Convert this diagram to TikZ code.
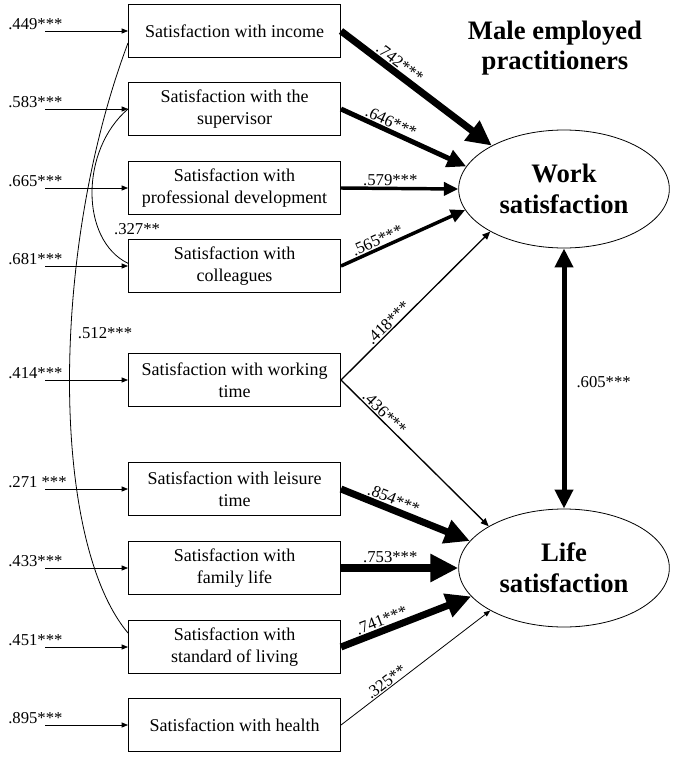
\documentclass[tikz,border=0pt]{standalone}
\usepackage{fontspec}
\setmainfont{Liberation Serif}
\usetikzlibrary{arrows.meta,shapes.geometric}

\tikzset{
  itembox/.style={draw, line width=0.75pt, minimum width=159pt, minimum height=40pt,
    align=center, inner sep=2pt, font=\fontsize{13.5}{16.5}\selectfont},
  latent/.style={draw, ellipse, line width=0.6pt, minimum width=158pt, minimum height=88.5pt,
    align=center, inner sep=0pt, font=\fontsize{20}{23}\selectfont\bfseries},
  pth/.style={line width=#1, -{Triangle[length=3pt 3, width=2pt 3]}},
  dblpth/.style={line width=#1, {Triangle[length=3pt 3, width=2pt 3]}-{Triangle[length=3pt 3, width=2pt 3]}},
  coef/.style={font=\fontsize{12.5}{14}\selectfont, inner sep=1.5pt},
  slcoef/.style={coef, sloped, above, inner sep=0.8pt},
}

\begin{document}
\begin{tikzpicture}[x=0.75pt, y=-0.75pt]
\useasboundingbox (0,0) rectangle (672,760);

% observed items
\node[itembox] (inc) at (234.5,31) {Satisfaction with income};
\node[itembox] (sup) at (234.5,109) {Satisfaction with the\\supervisor};
\node[itembox] (prof) at (234.5,188) {Satisfaction with\\professional development};
\node[itembox] (coll) at (234.5,266) {Satisfaction with\\colleagues};
\node[itembox] (wtime) at (234.5,380) {Satisfaction with working\\time};
\node[itembox] (leis) at (234.5,489) {Satisfaction with leisure\\time};
\node[itembox] (fam) at (234.5,568) {Satisfaction with\\family life};
\node[itembox] (stand) at (234.5,647) {Satisfaction with\\standard of living};
\node[itembox] (health) at (234.5,725) {Satisfaction with health};

% latent variables
\node[latent] (ws) at (564,189) {Work\\satisfaction};
\node[latent] (ls) at (564,568) {Life\\satisfaction};
\node[align=center, font=\fontsize{20}{23}\selectfont\bfseries] (title) at (555,48) {Male employed\\practitioners};

% error terms
\foreach \nm/\val in {inc/.449***, sup/.583***, prof/.665***, coll/.681***, wtime/.414***,
    leis/.271 ***, fam/.433***, stand/.451***, health/.895***}
{
  \coordinate (\nm-err) at ([xshift=-62pt]\nm.west);
  \draw[pth=0.6pt] (\nm-err) -- (\nm.west);
  \node[coef, anchor=base west, inner sep=0pt] (\nm-lab) at ([xshift=-28pt, yshift=1.5pt]\nm-err) {\val};
}

% correlations
\draw[line width=0.6pt] ([yshift=-9pt]inc.west) .. controls (50,250) and (50,540) .. ([yshift=10.5pt]stand.west);
\node[coef] (r512) at (105,333) {.512***};
\draw[line width=0.6pt] (sup.west) .. controls (80,150) and (80,240) .. ([yshift=2pt]coll.west);
\node[coef] (r327) at (137,229) {.327**};

% paths to work satisfaction
\draw[pth=5.25pt] (inc.east) -- (ws.149) node[slcoef, pos=0.35] (b1) {.742***};
\draw[pth=3.75pt] (sup.east) -- (ws.167) node[slcoef, pos=0.37] (b2) {.646***};
\draw[pth=2.6pt] (prof.east) -- (ws.180) node[slcoef, pos=0.42] (b3) {.579***};
\draw[pth=2.6pt] (coll.east) -- (ws.192) node[slcoef, pos=0.32] (b4) {.565***};
\draw[pth=1pt] (wtime.east) -- (ws.210) node[slcoef, pos=0.35] (b5) {.418***};

% paths to life satisfaction
\draw[pth=1pt] (wtime.east) -- (ls.151) node[slcoef, pos=0.26] (b6) {.436***};
\draw[pth=5.25pt] (leis.east) -- (ls.164.5) node[slcoef, pos=0.38] (b7) {.854***};
\draw[pth=6pt] (fam.east) -- (ls.180) node[slcoef, pos=0.42] (b8) {.753***};
\draw[pth=5.25pt] (stand.east) -- (ls.197) node[slcoef, pos=0.34] (b9) {.741***};
\draw[pth=0.6pt] (health.east) -- (ls.210.6) node[slcoef, pos=0.33] (b10) {.325**};

% work -- life
\draw[dblpth=3.75pt] (ws.south) -- (ls.north) node[coef, midway, right=6pt, yshift=-3pt] (r605) {.605***};
\end{tikzpicture}
\end{document}
